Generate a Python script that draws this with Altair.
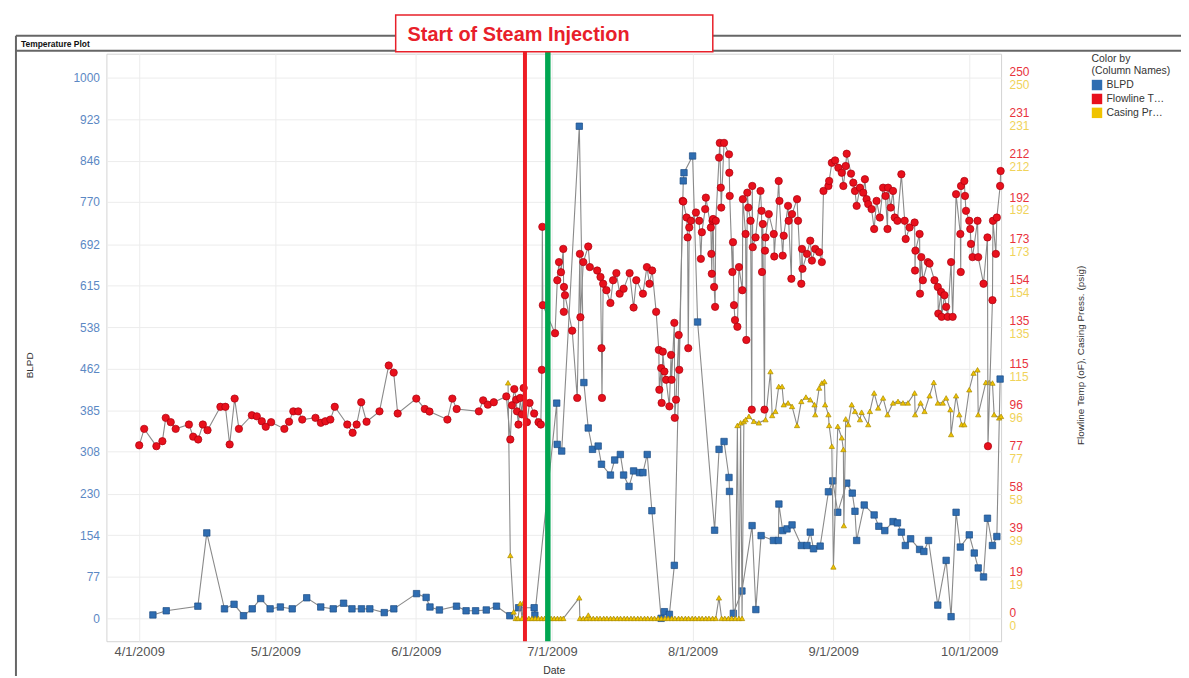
import altair as alt
import pandas as pd

# ---------------- data (days after 2009-04-01, value) ----------------
blpd_days = [3.02, 5.96, 12.93, 14.90, 18.80, 20.91, 22.99, 24.92, 26.78, 28.86,
             31.12, 33.73, 36.93, 40.02, 42.78, 45.06, 46.90, 49.00, 50.84, 54.02,
             56.13, 61.14, 63.25, 64.10, 66.18, 69.95, 72.06, 74.16, 76.51, 78.76,
             81.70, 83.65, 87.07, 87.22, 92.04, 92.15, 93.14, 97.02, 98.03, 98.99,
             99.93, 101.18, 101.91, 103.88, 104.82, 106.07, 106.79, 107.98, 108.99, 110.30,
             111.05, 111.99, 113.02, 115.06, 115.78, 116.88, 117.97, 119.94, 120.10, 122.00,
             123.10, 126.85, 127.83, 128.93, 130.02, 130.13, 130.98, 132.87, 135.11, 135.94,
             137.10, 139.82, 140.91, 141.02, 141.86, 142.82, 143.92, 145.96, 147.21, 147.93,
             148.65, 150.12, 151.94, 152.90, 154.00, 155.97, 157.20, 157.79, 158.16, 159.83,
             162.02, 163.05, 164.37, 166.18, 167.15, 168.02, 168.90, 170.06, 172.04, 172.98,
             174.01, 176.05, 177.89, 178.98, 180.08, 181.02, 182.99, 184.09, 184.96, 186.13,
             187.00, 188.10, 189.07, 189.79]
blpd_vals = [6.3, 14.0, 22.5, 158.0, 17.6, 26.0, 4.9, 17.6, 36.6, 17.6,
             21.0, 17.6, 38.0, 21.0, 17.6, 28.0, 17.6, 17.6, 17.6, 10.6,
             17.6, 45.7, 38.7, 21.0, 15.5, 22.5, 14.0, 14.0, 15.5, 22.5,
             4.9, 19.6, 19.6, 6.0, 398.0, 321.7, 309.4, 910.0, 436.0, 352.0,
             312.5, 318.6, 285.0, 265.0, 292.8, 303.0, 265.0, 243.9, 272.6, 269.5,
             269.5, 303.0, 199.0, 0.0, 12.3, 7.4, 98.0, 809.0, 824.0, 855.0,
             548.0, 163.0, 312.5, 327.0, 260.5, 234.7, 9.2, 50.6, 171.5, 16.2,
             153.0, 144.0, 144.0, 211.4, 162.3, 165.4, 172.8, 134.7, 134.7, 159.4,
             128.7, 133.6, 234.0, 254.2, 196.1, 250.0, 231.6, 198.0, 144.0, 209.6,
             191.2, 170.3, 162.3, 178.9, 176.5, 159.4, 134.7, 147.1, 127.4, 123.7,
             144.0, 24.5, 107.2, 3.1, 196.1, 131.8, 154.4, 120.8, 93.2, 76.6,
             185.1, 134.7, 151.3, 442.5]

temp_days = [0.00, 1.10, 3.79, 5.11, 5.85, 6.95, 8.04, 10.96, 11.90, 13.00,
             14.03, 15.06, 17.90, 19.00, 19.94, 21.04, 21.98, 24.83, 25.93, 27.02,
             27.90, 29.08, 32.00, 33.03, 33.97, 35.06, 35.94, 38.86, 40.04, 41.05,
             42.14, 43.11, 45.87, 47.05, 47.93, 48.94, 50.12, 52.97, 55.01, 56.10,
             56.98, 61.08, 62.96, 63.99, 67.94, 69.03, 69.98, 74.88, 75.83, 76.86,
             78.17, 80.93, 81.81, 82.18, 82.69, 83.12, 83.28, 83.61, 84.00, 84.37,
             84.75, 85.47, 86.06, 87.07, 88.03, 88.54, 88.76, 88.87, 88.98, 91.67,
             92.17, 92.54, 92.98, 93.49, 93.60, 93.64, 93.86, 95.46, 96.56, 97.15,
             97.26, 97.90, 98.99, 99.34, 100.96, 101.69, 101.91, 102.02, 102.28, 103.00,
             103.88, 104.47, 105.19, 105.92, 106.79, 108.11, 108.99, 109.58, 111.05, 111.92,
             112.49, 113.08, 113.96, 114.55, 114.66, 115.06, 115.17, 115.43, 115.78, 116.15,
             116.88, 117.25, 117.36, 117.97, 118.06, 118.34, 118.93, 119.06, 119.81, 119.94,
             120.68, 120.90, 121.04, 121.26, 121.63, 122.73, 123.45, 123.82, 124.04, 124.77,
             124.92, 126.02, 126.13, 126.23, 126.39, 126.52, 126.74, 126.96, 127.11, 127.83,
             127.99, 128.21, 128.31, 128.93, 130.02, 130.09, 130.18, 130.77, 130.90, 131.12,
             131.34, 131.87, 132.22, 132.96, 133.07, 133.68, 133.84, 134.06, 134.28, 134.78,
             135.04, 135.15, 135.26, 135.88, 136.97, 137.19, 137.30, 137.48, 137.85, 137.96,
             138.07, 138.79, 139.89, 140.00, 140.98, 141.14, 141.86, 142.08, 143.04, 143.17,
             143.77, 143.92, 145.02, 145.24, 145.96, 146.11, 146.22, 147.21, 147.93, 148.30,
             149.03, 149.90, 150.49, 150.85, 151.94, 152.10, 152.69, 153.41, 154.13, 154.88,
             155.23, 155.75, 155.97, 156.92, 157.42, 157.79, 158.16, 158.89, 159.61, 159.98,
             160.35, 160.71, 161.45, 162.02, 162.55, 163.27, 163.99, 164.52, 164.96, 165.09,
             165.68, 166.18, 166.56, 167.15, 168.02, 168.75, 168.97, 169.84, 170.94, 171.03,
             171.12, 172.04, 172.13, 172.41, 172.76, 173.86, 174.23, 175.32, 176.05, 176.16,
             176.79, 176.90, 177.51, 177.89, 178.24, 178.98, 179.33, 180.08, 181.02, 181.11,
             181.17, 181.90, 182.05, 182.27, 182.99, 183.21, 183.36, 183.71, 184.81, 184.96,
             186.13, 187.00, 187.11, 188.10, 188.21, 188.85, 189.07, 189.79, 189.90]
temp_vals = [80.0, 87.6, 79.6, 81.9, 92.7, 90.7, 87.6, 89.6, 84.0, 82.7,
             89.6, 87.0, 97.8, 97.8, 80.4, 101.6, 87.6, 93.9, 93.4, 91.1,
             88.6, 90.7, 87.6, 90.9, 95.7, 95.7, 91.9, 92.7, 90.4, 91.1,
             91.9, 97.8, 89.6, 85.8, 89.6, 99.9, 90.9, 95.7, 116.9, 113.6,
             94.7, 101.6, 96.8, 95.6, 91.9, 101.6, 96.8, 95.7, 100.8, 98.8,
             99.9, 102.6, 82.7, 98.5, 106.0, 101.1, 95.7, 89.6, 101.9, 94.3,
             106.5, 90.7, 99.6, 94.7, 90.7, 89.6, 114.9, 181.0, 144.8, 131.8,
             156.3, 164.7, 160.0, 170.8, 141.7, 153.2, 149.4, 133.0, 101.9, 168.5,
             139.2, 164.7, 171.9, 162.4, 160.8, 157.8, 124.9, 101.9, 154.7, 151.7,
             145.8, 156.3, 159.6, 150.1, 152.4, 159.6, 143.7, 156.3, 150.1, 162.4,
             154.7, 160.8, 141.7, 124.1, 105.7, 115.7, 99.6, 123.3, 114.1, 110.3,
             98.0, 121.8, 110.3, 136.6, 92.7, 101.1, 131.0, 114.9, 193.0, 192.7,
             185.3, 176.1, 124.9, 180.7, 183.8, 187.6, 183.8, 166.2, 178.5, 189.2,
             194.5, 180.7, 168.5, 159.3, 183.8, 184.6, 153.2, 144.0, 183.8, 213.0,
             219.8, 199.1, 189.9, 219.8, 214.5, 206.0, 195.3, 160.1, 173.9, 144.8,
             137.9, 134.8, 162.4, 151.7, 193.8, 177.7, 128.7, 196.8, 189.9, 183.8,
             96.5, 199.9, 171.6, 176.1, 197.6, 188.4, 160.1, 182.3, 96.5, 170.0,
             176.1, 186.9, 177.7, 167.3, 202.2, 193.0, 167.7, 176.9, 190.7, 183.8,
             157.0, 186.9, 193.8, 183.8, 154.7, 170.8, 161.6, 168.5, 174.6, 165.4,
             170.8, 169.3, 164.7, 197.6, 199.9, 202.2, 210.6, 211.7, 208.3, 206.0,
             199.9, 209.1, 214.8, 205.6, 201.4, 197.6, 190.7, 199.1, 196.8, 203.0,
             193.8, 191.5, 189.2, 180.0, 193.0, 185.3, 199.1, 195.3, 180.0, 199.1,
             189.9, 197.6, 185.3, 183.8, 205.3, 183.8, 175.4, 180.7, 183.0, 160.8,
             170.0, 177.7, 150.1, 167.0, 156.3, 164.7, 164.0, 156.3, 153.2, 140.9,
             150.9, 139.4, 149.4, 144.0, 139.4, 164.7, 139.4, 196.1, 177.7, 160.1,
             199.9, 202.2, 195.3, 188.4, 183.8, 180.0, 173.1, 167.0, 183.8, 167.0,
             154.7, 176.1, 79.6, 147.1, 183.8, 168.5, 185.3, 199.9, 206.8]

press_days = [81.31, 81.81, 82.56, 83.00, 83.50, 84.00, 84.40, 84.75, 85.20, 85.90,
              86.60, 87.30, 88.00, 88.70, 89.40, 90.10, 90.80, 91.50, 92.20, 92.90,
              93.50, 97.02, 97.15, 97.90, 98.60, 99.00, 99.40, 100.10, 100.90, 101.60,
              102.40, 103.10, 103.90, 104.60, 105.40, 106.10, 106.90, 107.60, 108.40, 109.10,
              109.90, 110.60, 111.40, 112.10, 112.90, 113.60, 114.40, 115.10, 115.90, 116.60,
              117.40, 118.10, 118.90, 119.60, 120.40, 121.10, 121.90, 122.60, 123.40, 124.10,
              124.90, 125.60, 126.40, 127.10, 127.80, 128.40, 129.10, 129.90, 130.60, 131.40,
              131.87, 132.20, 132.59, 132.90, 133.30, 133.68, 134.41, 135.50, 136.60, 138.07,
              139.16, 139.54, 140.26, 140.98, 141.72, 142.08, 143.04, 143.92, 145.02, 145.96,
              146.98, 147.93, 148.87, 149.03, 149.90, 150.49, 151.06, 151.21, 151.94, 152.10,
              152.69, 153.04, 154.00, 154.88, 155.23, 155.34, 155.75, 156.32, 157.07, 157.79,
              158.89, 159.26, 160.71, 161.08, 162.02, 162.90, 163.99, 164.96, 166.18, 167.28,
              168.37, 169.47, 170.94, 171.05, 172.26, 173.13, 174.23, 175.17, 176.05, 177.15,
              177.89, 178.83, 178.98, 180.08, 180.80, 181.31, 181.90, 182.99, 183.93, 184.81,
              184.96, 186.65, 187.38, 188.10, 188.47, 189.57, 190.00]
press_vals = [108.9, 29.1, 3.0, 0.0, 0.0, 6.9, 0.0, 7.4, 0.0, 0.0,
              0.0, 0.0, 0.0, 0.0, 0.0, 0.0, 0.0, 0.0, 0.0, 0.0,
              0.0, 9.5, 0.0, 0.0, 0.0, 1.5, 0.0, 0.0, 0.0, 0.0,
              0.0, 0.0, 0.0, 0.0, 0.0, 0.0, 0.0, 0.0, 0.0, 0.0,
              0.0, 0.0, 0.0, 0.0, 0.0, 0.0, 0.0, 0.0, 0.0, 0.0,
              0.0, 0.0, 0.0, 0.0, 0.0, 0.0, 0.0, 0.0, 0.0, 0.0,
              0.0, 0.0, 0.0, 0.0, 9.5, 0.0, 0.0, 0.0, 0.0, 0.0,
              89.2, 0.0, 90.4, 0.0, 91.0, 91.9, 93.4, 91.1, 90.4, 91.9,
              114.1, 93.8, 95.7, 107.2, 107.2, 98.8, 99.6, 98.0, 89.2, 100.3,
              102.3, 101.1, 98.8, 94.2, 106.5, 108.8, 109.5, 98.8, 94.2, 89.2,
              79.6, 23.8, 88.8, 83.5, 78.1, 42.9, 92.2, 89.6, 98.8, 95.7,
              91.9, 95.3, 89.6, 95.7, 104.2, 97.3, 101.9, 94.2, 99.6, 100.3,
              99.6, 99.6, 104.2, 94.2, 99.6, 95.7, 102.9, 109.1, 99.6, 99.6,
              101.9, 96.5, 85.0, 102.9, 94.2, 89.6, 89.6, 105.7, 113.4, 114.9,
              94.2, 109.1, 109.1, 108.8, 94.2, 92.7, 93.4]

series_names = ["BLPD", "Flowline Temp (oF)", "Casing Press. (psig)"]
series_colors = ["#2f6db1", "#e8101c", "#f0c300"]

x_tick_months = [4, 5, 6, 7, 8, 9, 10]
left_ticks = [0, 77, 154, 230, 308, 385, 462, 538, 615, 692, 770, 846, 923, 1000]
right_ticks = [0, 19, 39, 58, 77, 96, 115, 135, 154, 173, 192, 212, 231, 250]

event_dates = ["2009-06-25T01:00:00", "2009-06-30T02:00:00"]
event_text = "Start of Steam Injection"
panel_title = "Temperature Plot"

# ---------------- build tables ----------------
START = pd.Timestamp("2009-04-01")


def make_df(days, vals, name):
    return pd.DataFrame({
        "date": [(START + pd.Timedelta(days=float(d))).strftime("%Y-%m-%dT%H:%M:%S") for d in days],
        "value": vals,
        "series": name,
    })


blpd_df = make_df(blpd_days, blpd_vals, series_names[0])
temp_df = make_df(temp_days, temp_vals, series_names[1])
press_df = make_df(press_days, press_vals, series_names[2])
event_df = pd.DataFrame({"date": event_dates})
one = pd.DataFrame({"k": [0]})

W, H = 900, 591
FONT = "Liberation Sans"

x_scale = alt.Scale(domain=[alt.DateTime(year=2009, month=3, date=24, hours=18, minutes=30),
                            alt.DateTime(year=2009, month=10, date=8)])
x_axis = alt.Axis(values=[alt.DateTime(year=2009, month=m, date=1) for m in x_tick_months],
                  format="%-m/%-d/%Y", grid=True, gridColor="#ececec", domain=False,
                  ticks=False, tickSize=0, labelPadding=4, labelFontSize=13, labelColor="#555555",
                  labelFlush=False, title="Date", titleFontSize=10.5, titleFontWeight="normal",
                  titleColor="#333333", titleY=29, titleBaseline="middle")
x_enc = alt.X("date:T", scale=x_scale, axis=x_axis)

left_scale = alt.Scale(domain=[-42.28, 1044.1], nice=False, zero=False)
right_scale = alt.Scale(domain=[-10.57, 261.03], nice=False, zero=False)

left_axis = alt.Axis(values=left_ticks, format="d", grid=True, gridColor="#ececec", domain=False,
                     ticks=False, tickSize=0, labelColor="#5b88c4", labelFontSize=12,
                     labelPadding=7, title="BLPD", titleFontSize=10, titleFontWeight="normal",
                     titleColor="#333333", titleX=-77, titleY=313, titleAngle=270,
                     titleAlign="center", titleBaseline="middle")
red_axis = alt.Axis(orient="right", values=right_ticks, format="d", grid=False, domain=False,
                    ticks=False, tickSize=0, labelColor="#e8323c", labelFontSize=12,
                    labelPadding=8, labelOffset=-6,
                    title="Flowline Temp (oF), Casing Press. (psig)",
                    titleFontSize=10, titleFontWeight="normal", titleColor="#333333",
                    titleX=80, titleY=303, titleAngle=270, titleAlign="center",
                    titleBaseline="middle")
yellow_axis = alt.Axis(orient="right", values=right_ticks, format="d", grid=False, domain=False,
                       ticks=False, tickSize=0, labelColor="#f0d35a", labelFontSize=12,
                       labelPadding=8, labelOffset=7, title=None)

color_enc = alt.Color(
    "series:N",
    scale=alt.Scale(domain=series_names, range=series_colors),
    legend=alt.Legend(title=["Color by", "(Column Names)"], orient="none", legendX=991,
                      legendY=0, symbolType="square", symbolSize=110, symbolStrokeWidth=0,
                      symbolOpacity=1, titleFontSize=10.5, titleFontWeight="normal",
                      titleColor="#333333", labelFontSize=10.5, labelColor="#333333",
                      titleFont=FONT, labelFont=FONT, padding=0, rowPadding=3,
                      titlePadding=3, labelLimit=62, titleLimit=85),
)

line_color = "#8a8a8a"


def series_layer(df, axis, scale, shape, size, stroke):
    y_enc = alt.Y("value:Q", scale=scale, axis=axis)
    line = alt.Chart(df).mark_line(color=line_color, strokeWidth=1.1).encode(x=x_enc, y=y_enc)
    pts = alt.Chart(df).mark_point(shape=shape, filled=True, size=size, opacity=1,
                                   stroke=stroke, strokeWidth=0.7).encode(
        x=x_enc, y=y_enc, color=color_enc)
    return alt.layer(line, pts)


blue_layer = series_layer(blpd_df, left_axis, left_scale, "square", 42, "#1b4c85")
yellow_layer = series_layer(press_df, yellow_axis, right_scale, "triangle-up", 28, "#a88a00")
red_layer = series_layer(temp_df, red_axis, right_scale, "circle", 55, "#a8000d")

# ---------------- decorations ----------------
frame_color = "#666666"
frame_top = alt.Chart(one).mark_rule(color=frame_color, strokeWidth=2).encode(
    x=alt.value(-91), x2=alt.value(1082), y=alt.value(-18))
frame_sub = alt.Chart(one).mark_rule(color=frame_color, strokeWidth=2).encode(
    x=alt.value(-91), x2=alt.value(1082), y=alt.value(-3))
frame_left = alt.Chart(one).mark_rule(color=frame_color, strokeWidth=2).encode(
    x=alt.value(-91), y=alt.value(-18), y2=alt.value(640))
title_txt = alt.Chart(one).mark_text(align="left", baseline="middle", font=FONT, fontSize=8.5,
                                     fontWeight="bold", color="#111111").encode(
    x=alt.value(-86), y=alt.value(-10), text=alt.value(panel_title))

red_rule = alt.Chart(event_df.iloc[[0]]).mark_rule(color="#ee1c24", strokeWidth=4).encode(
    x=x_enc, y=alt.value(-2), y2=alt.value(H))
green_rule = alt.Chart(event_df.iloc[[1]]).mark_rule(color="#00a651", strokeWidth=5.5).encode(
    x=x_enc, y=alt.value(-2), y2=alt.value(H))

ann_box = alt.Chart(one).mark_rect(fill="white", stroke="#e8202a", strokeWidth=1.5).encode(
    x=alt.value(291), x2=alt.value(610), y=alt.value(-39), y2=alt.value(-2))
ann_txt = alt.Chart(one).mark_text(align="left", baseline="middle", font=FONT,
                                   fontSize=20, fontWeight="bold", color="#e8202a").encode(
    x=alt.value(303), y=alt.value(-19), text=alt.value(event_text))

chart = alt.layer(
    frame_top, frame_sub, frame_left, title_txt,
    blue_layer, yellow_layer, red_layer,
    red_rule, green_rule, ann_box, ann_txt,
).resolve_scale(
    y="independent"
).properties(
    width=W, height=H,
    autosize=alt.AutoSizeParams(type="none"),
    padding={"left": 99, "top": 44, "right": 181, "bottom": 33},
    background="white",
).configure_view(
    stroke="#d4d4d4", strokeWidth=1
).configure_axis(
    labelFont=FONT, titleFont=FONT
)

chart.save("out.html", embed_options={"renderer": "svg", "actions": False})
